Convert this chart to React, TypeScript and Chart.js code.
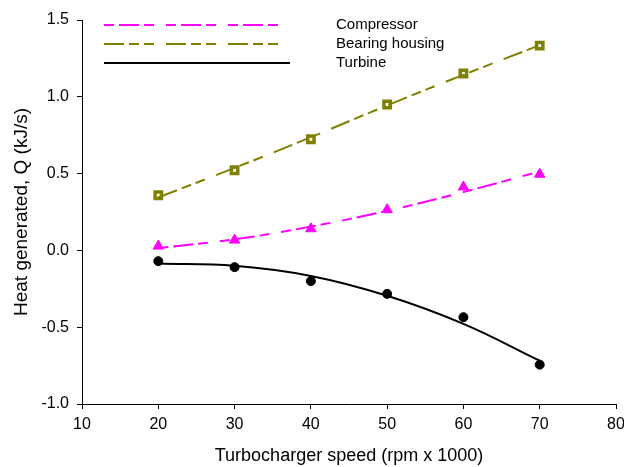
import { useEffect, useRef } from 'react';
import { Chart, registerables } from 'chart.js';

Chart.register(...registerables);

const speeds = [20, 30, 40, 50, 60, 70];
const compressorQ = [0.028, 0.067, 0.141, 0.265, 0.413, 0.496];
const bearingQ = [0.359, 0.522, 0.724, 0.95, 1.152, 1.333];
const turbineQ = [-0.07, -0.109, -0.2, -0.283, -0.435, -0.744];
const compressorFit = [0.015, 0.072, 0.155, 0.258, 0.38, 0.514];
const bearingFit = [0.345, 0.537, 0.737, 0.944, 1.143, 1.336];
const turbineFit = [-0.085, -0.1, -0.166, -0.295, -0.478, -0.718];
const seriesNames = ['Compressor', 'Bearing housing', 'Turbine'];
const xRange = [10, 80];
const yRange = [-1.0, 1.5];

const MAGENTA = '#ff00ff';
const OLIVE = '#808000';
const BLACK = '#000000';
const FONT = "'Liberation Sans', Arial, sans-serif";

const compDash = [10, 5, 20, 5, 10, 12];
const bearDash = [20, 5, 10, 5, 10, 12];

const pts = (ys: number[]) => speeds.map((x, i) => ({ x, y: ys[i] }));

const legendPlugin = {
  id: 'insideLegend',
  afterDraw(chart: any) {
    const ctx = chart.ctx;
    const items = [
      { name: seriesNames[0], color: MAGENTA, dash: compDash, y: 25, x2: 278 },
      { name: seriesNames[1], color: OLIVE, dash: bearDash, y: 44, x2: 278 },
      { name: seriesNames[2], color: BLACK, dash: [], y: 63, x2: 290 },
    ];
    ctx.save();
    items.forEach((it) => {
      ctx.beginPath();
      ctx.strokeStyle = it.color;
      ctx.lineWidth = 2;
      ctx.setLineDash(it.dash);
      ctx.moveTo(104, it.y);
      ctx.lineTo(it.x2, it.y);
      ctx.stroke();
      ctx.setLineDash([]);
      ctx.fillStyle = '#000';
      ctx.font = `15px ${FONT}`;
      ctx.textBaseline = 'middle';
      ctx.textAlign = 'left';
      ctx.fillText(it.name, 336, it.y);
    });
    ctx.restore();
  },
};

export default function App() {
  const ref = useRef<HTMLCanvasElement>(null);
  useEffect(() => {
    document.body.style.margin = '0';
    const canvas = ref.current!;
    const chart = new Chart(canvas, {
      type: 'scatter',
      data: {
        datasets: [
          {
            label: seriesNames[0] + ' fit',
            data: pts(compressorFit),
            showLine: true,
            borderColor: MAGENTA,
            borderWidth: 2,
            borderDash: compDash,
            pointRadius: 0,
            tension: 0.4,
          },
          {
            label: seriesNames[1] + ' fit',
            data: pts(bearingFit),
            showLine: true,
            borderColor: OLIVE,
            borderWidth: 2,
            borderDash: bearDash,
            pointRadius: 0,
            tension: 0.4,
          },
          {
            label: seriesNames[2] + ' fit',
            data: pts(turbineFit),
            showLine: true,
            borderColor: BLACK,
            borderWidth: 2,
            pointRadius: 0,
            tension: 0.4,
          },
          {
            label: seriesNames[0],
            data: pts(compressorQ),
            showLine: false,
            pointStyle: 'triangle',
            pointRadius: 6,
            backgroundColor: MAGENTA,
            borderColor: MAGENTA,
            borderWidth: 1,
          },
          {
            label: seriesNames[1],
            data: pts(bearingQ),
            showLine: false,
            pointStyle: 'rect',
            pointRadius: 4.5,
            backgroundColor: '#ffffff',
            borderColor: OLIVE,
            borderWidth: 3.5,
          },
          {
            label: seriesNames[2],
            data: pts(turbineQ),
            showLine: false,
            pointStyle: 'circle',
            pointRadius: 4.5,
            backgroundColor: BLACK,
            borderColor: BLACK,
            borderWidth: 1,
          },
        ],
      },
      options: {
        responsive: false,
        animation: false,
        events: [],
        layout: { padding: { top: 20, right: 6, left: 0, bottom: 0 } },
        plugins: { legend: { display: false }, tooltip: { enabled: false } },
        scales: {
          x: {
            type: 'linear',
            min: xRange[0],
            max: xRange[1],
            ticks: {
              stepSize: 10,
              color: '#000',
              font: { family: FONT, size: 16 },
              padding: 6,
              maxRotation: 0,
            },
            grid: { drawOnChartArea: false, tickLength: 5, color: '#000' },
            border: { color: '#000', width: 1 },
            title: {
              display: true,
              text: 'Turbocharger speed (rpm x 1000)',
              color: '#000',
              font: { family: FONT, size: 18 },
              padding: { top: 8, bottom: 0 },
            },
            afterFit(scale: any) {
              scale.height = 63;
              scale.paddingRight = 0;
              scale.paddingLeft = 0;
            },
          },
          y: {
            type: 'linear',
            min: yRange[0],
            max: yRange[1],
            ticks: {
              stepSize: 0.5,
              color: '#000',
              font: { family: FONT, size: 16 },
              padding: 8,
              callback: (v: any) => Number(v).toFixed(1),
            },
            grid: { drawOnChartArea: false, tickLength: 5, color: '#000' },
            border: { color: '#000', width: 1 },
            title: {
              display: true,
              text: 'Heat generated, Q (kJ/s)',
              color: '#000',
              font: { family: FONT, size: 19 },
              padding: { top: 10, bottom: 4 },
            },
            afterFit(scale: any) {
              scale.width = 82;
            },
          },
        },
      },
      plugins: [legendPlugin],
    });
    return () => chart.destroy();
  }, []);
  return <canvas ref={ref} width={624} height={467} style={{ display: 'block' }} />;
}
